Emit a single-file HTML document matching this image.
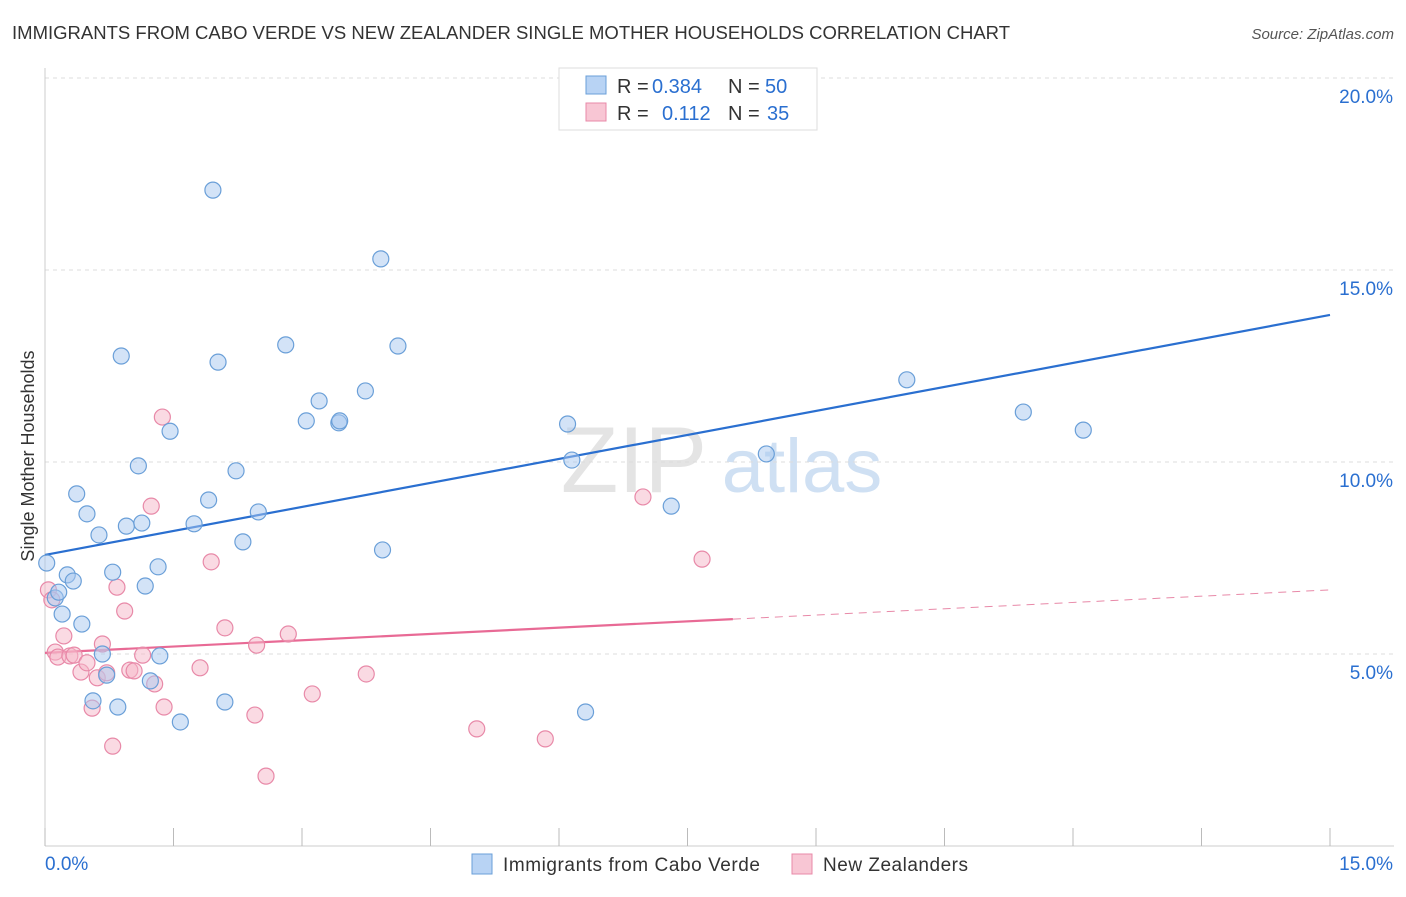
<!DOCTYPE html>
<html><head><meta charset="utf-8"><style>
body{margin:0;background:#fff;font-family:"Liberation Sans",sans-serif;}
svg text{font-family:"Liberation Sans",sans-serif;}
</style></head><body>
<svg width="1406" height="892" id="chart">
<text x="12" y="39" font-size="18" fill="#333" textLength="998" lengthAdjust="spacingAndGlyphs">IMMIGRANTS FROM CABO VERDE VS NEW ZEALANDER SINGLE MOTHER HOUSEHOLDS CORRELATION CHART</text>
<text x="1394" y="39" font-size="15" fill="#555" text-anchor="end" font-style="italic">Source: ZipAtlas.com</text>
<text x="634" y="492" font-size="94" fill="#e4e4e4" font-family="Liberation Serif" text-anchor="middle">ZIP</text>
<text x="802" y="492" font-size="76" fill="#cfe0f3" text-anchor="middle">atlas</text>
<text x="34" y="456" font-size="18" fill="#333" text-anchor="middle" transform="rotate(-90 34 456)">Single Mother Households</text>
<g id="grid"></g><g id="axes"></g><g id="lines"></g><g id="pts"></g>
<g>
<rect x="559" y="68" width="258" height="62" fill="#fff" stroke="#ddd"/>
<rect x="586" y="76" width="20" height="18" fill="#b8d3f4" stroke="#6a9fd8"/>
<text y="93" font-size="20" fill="#333"><tspan x="617">R =</tspan><tspan x="652" fill="#2a6fd0">0.384</tspan><tspan x="728">N =</tspan><tspan x="765" fill="#2a6fd0">50</tspan></text>
<rect x="586" y="103" width="20" height="18" fill="#f8c6d4" stroke="#e889a8"/>
<text y="120" font-size="20" fill="#333"><tspan x="617">R =</tspan><tspan x="662" fill="#2a6fd0">0.112</tspan><tspan x="728">N =</tspan><tspan x="767" fill="#2a6fd0">35</tspan></text>
</g>
<g>
<rect x="472" y="854" width="20" height="20" fill="#b8d3f4" stroke="#6a9fd8"/>
<text x="503" y="871" font-size="19" fill="#333" textLength="257">Immigrants from Cabo Verde</text>
<rect x="792" y="854" width="20" height="20" fill="#f8c6d4" stroke="#e889a8"/>
<text x="823" y="871" font-size="19" fill="#333" textLength="145">New Zealanders</text>
</g>
</svg>
<script>
const blueX=[0.02,0.12,0.26,0.33,0.37,0.49,0.63,0.2,0.43,0.16,0.67,0.72,0.56,0.85,0.79,0.89,0.95,1.09,1.13,1.17,1.32,1.34,1.23,1.46,1.58,1.74,1.91,1.96,2.02,2.1,2.23,2.31,2.49,2.81,3.05,3.2,3.43,3.44,3.74,3.92,3.94,4.12,6.1,6.15,6.31,7.31,8.42,10.06,11.42,12.12];
const blueY=[7.37,6.46,7.06,6.9,9.17,8.65,8.1,6.04,5.78,6.61,5.0,4.45,3.78,3.62,7.13,12.76,8.33,9.9,8.41,6.77,7.27,4.95,4.3,10.8,3.23,8.39,9.01,17.08,12.6,3.75,9.77,7.92,8.7,13.05,11.07,11.59,11.02,11.07,11.85,15.29,7.71,13.02,10.99,10.05,3.49,8.85,10.21,12.14,11.3,10.83];
const pinkX=[0.04,0.08,0.12,0.15,0.22,0.29,0.34,0.42,0.49,0.61,0.55,0.67,0.72,0.79,0.84,0.93,0.99,1.04,1.14,1.24,1.28,1.37,1.39,1.81,1.94,2.1,2.45,2.47,2.58,2.84,3.12,3.75,5.04,5.84,6.98,7.67];
const pinkY=[6.67,6.41,5.05,4.92,5.47,4.95,4.97,4.53,4.77,4.38,3.59,5.26,4.51,2.6,6.74,6.12,4.58,4.56,4.97,8.85,4.22,11.17,3.62,4.64,7.4,5.68,3.41,5.23,1.82,5.52,3.96,4.48,3.05,2.79,9.09,7.47];
const blueTrend=[7.58,13.83];
const pinkTrend=[5.03,6.67];
const yTicks=[5,10,15,20];
const NS='http://www.w3.org/2000/svg';
const X=v=>45+v/15*1285, Y=v=>846-v*38.4;
function mk(tag,attrs,parent){const e=document.createElementNS(NS,tag);for(const k in attrs)e.setAttribute(k,attrs[k]);document.getElementById(parent).appendChild(e);return e;}
yTicks.forEach(t=>{
 const g=mk('line',{x1:45,x2:1394,y1:Y(t),y2:Y(t),stroke:'#ddd','stroke-dasharray':'4 4'},'grid');
 
 
 const l=mk('text',{x:1393,y:Y(t)+25,'font-size':19,fill:'#2a6fd0','text-anchor':'end'},'grid');
 l.textContent=t.toFixed(1)+'%';
 
 
});
mk('line',{x1:45,x2:45,y1:68,y2:846,stroke:'#ccc'},'axes');
mk('line',{x1:45,x2:1394,y1:846,y2:846,stroke:'#ccc'},'axes');
for(let i=0;i<=10;i++){const t=mk('line',{x1:X(i*1.5),x2:X(i*1.5),y1:828,y2:846,stroke:'#bbb'},'axes');
 
 }
const xl=mk('text',{x:45,y:870,'font-size':19,fill:'#2a6fd0'},'axes');xl.textContent='0.0%';


const xr=mk('text',{x:1393,y:870,'font-size':19,fill:'#2a6fd0','text-anchor':'end'},'axes');xr.textContent='15.0%';


function dot(x,y,f,s,n){const c=mk('circle',{cx:X(x),cy:Y(y),r:8,fill:f,'fill-opacity':0.5,stroke:s,'stroke-width':1.2},'pts');
 
 }
pinkX.forEach((x,i)=>dot(x,pinkY[i],'#f6b5c8','#e889a8','pink-point'));
blueX.forEach((x,i)=>dot(x,blueY[i],'#a8c8f0','#6a9fd8','blue-point'));
const bl=mk('line',{x1:X(0),y1:Y(blueTrend[0]),x2:X(15),y2:Y(blueTrend[1]),stroke:'#2a6fd0','stroke-width':2.2},'lines');


const pe=8.03, pm=pinkTrend[0]+(pinkTrend[1]-pinkTrend[0])*pe/15;
const pl=mk('line',{x1:X(0),y1:Y(pinkTrend[0]),x2:X(pe),y2:Y(pm),stroke:'#e86a95','stroke-width':2.2},'lines');


const pd=mk('line',{x1:X(pe),y1:Y(pm),x2:X(15),y2:Y(pinkTrend[1]),stroke:'#e889a8','stroke-width':1,'stroke-dasharray':'8 6'},'lines');


</script>
</body></html>
